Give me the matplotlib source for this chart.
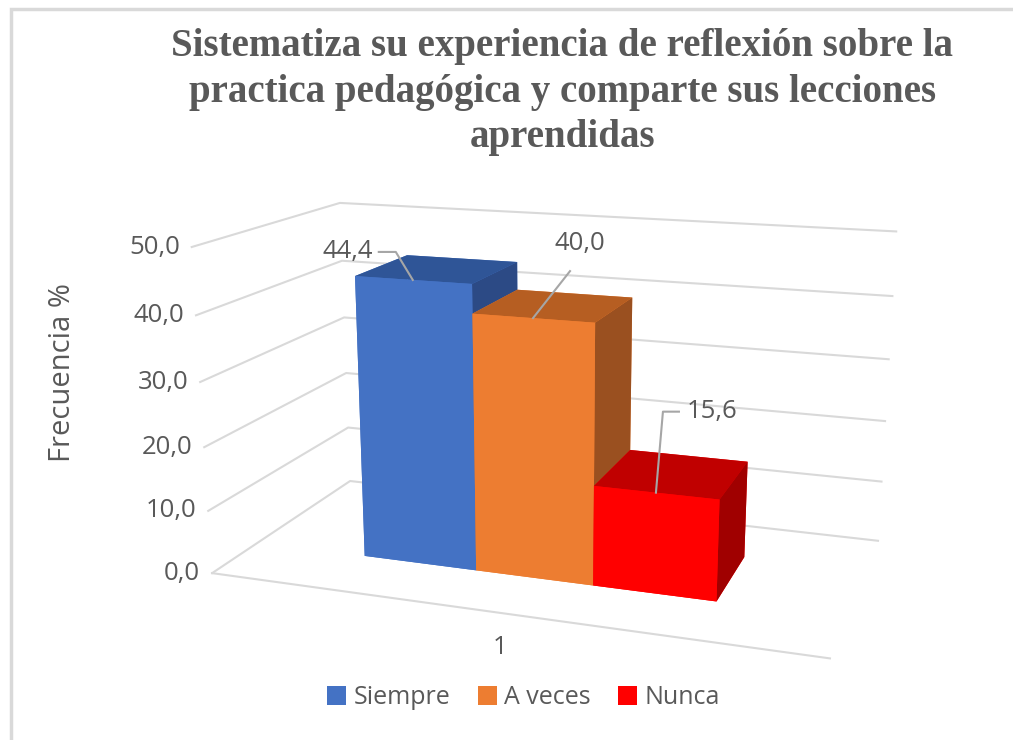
import matplotlib
matplotlib.use("Agg")
import matplotlib.pyplot as plt
from matplotlib.lines import Line2D
from matplotlib.patches import Patch, Rectangle
from mpl_toolkits.mplot3d import proj3d

# data
title = ("Sistematiza su experiencia de reflexión sobre la\n"
         "practica pedagógica y comparte sus lecciones\n"
         "aprendidas")
series = ["Siempre", "A veces", "Nunca"]
values = [44.4, 40.0, 15.6]
value_labels = ["44,4", "40,0", "15,6"]
category = "1"
zticks = [0, 10, 20, 30, 40, 50]
ztick_labels = ["0,0", "10,0", "20,0", "30,0", "40,0", "50,0"]

front = ["#4472C4", "#ED7D31", "#FF0000"]
top = ["#2F5597", "#B65E22", "#C00000"]
side = ["#2C4A85", "#9A5020", "#A00000"]
grey = "#595959"
gridc = "#D9D9D9"
sans = ["Open Sans", "DejaVu Sans"]

fig = plt.figure(figsize=(10.13, 7.40), dpi=100)
fig.add_artist(Rectangle((0.011, -0.01), 1.0, 0.998, transform=fig.transFigure,
                         fill=False, edgecolor=gridc, lw=2.5))

ax = fig.add_axes([0.312, 0.1345, 0.458, 0.627], projection="3d",
                  computed_zorder=False)
ax.set_proj_type("persp", focal_length=0.62)
ax.view_init(elev=15.4, azim=-71)
x0, x1 = 0, 5
y0, y1 = 0, 2.5
ax.set_xlim(x0, x1)
ax.set_ylim(y0, y1)
ax.set_zlim(0, 50)
ax.set_box_aspect((4.78, 2.4, 2.55), zoom=1.6)
ax.set_axis_off()

for z in zticks:
    ax.plot([x0, x0, x1], [y0, y1, y1], [z, z, z], color=gridc, lw=1.5,
            zorder=1, clip_on=False)
ax.plot([x0, x1], [y0, y0], [0, 0], color=gridc, lw=1.5, zorder=1, clip_on=False)

# faces: -z, +z, -y, +y, -x, +x
for i, v in enumerate(values):
    cols = [front[i], top[i], front[i], front[i], front[i], side[i]]
    ax.bar3d(1 + i, 0.75, 0, 1, 1, v, color=cols, shade=False,
             zorder=2 + i, linewidth=0)

fig.canvas.draw()
M = ax.get_proj()
to_fig = fig.transFigure.inverted()


def pix(x, y, z):
    px, py, _ = proj3d.proj_transform(x, y, z, M)
    return ax.transData.transform((px, py))


def figxy(p):
    return to_fig.transform(p)


for z, lab in zip(zticks, ztick_labels):
    p = pix(x0, y0, z)
    fx, fy = figxy((p[0] - 12, p[1]))
    fig.text(fx, fy, lab, ha="right", va="center", fontsize=18.5,
             color=grey, family=sans)

p = pix((x0 + x1) / 2, y0, 0)
fx, fy = figxy((p[0], p[1] - 35))
fig.text(fx, fy, category, ha="center", va="center", fontsize=18.5,
         color=grey, family=sans)

# data labels with leader lines (pixel offsets from front top edge)
leaders = [[(0, 0), (-17, 28), (-34, 28)],
           [(0, 0), (37, 47)],
           [(0, 0), (7, 81), (23, 81)]]
text_off = [(-40, 28, "right"), (47, 75, "center"), (31, 81, "left")]
for i, v in enumerate(values):
    p = pix(1.5 + i, 0.75, v)
    pts = [figxy((p[0] + dx, p[1] + dy)) for dx, dy in leaders[i]]
    fig.add_artist(Line2D([q[0] for q in pts], [q[1] for q in pts],
                          color="#A6A6A6", lw=1.5, transform=fig.transFigure))
    dx, dy, ha = text_off[i]
    fx, fy = figxy((p[0] + dx, p[1] + dy))
    fig.text(fx, fy, value_labels[i], ha=ha, va="center", fontsize=18.5,
             color=grey, family=sans)

fig.text(0.062, 0.496, "Frecuencia %", rotation=90, ha="center", va="center",
         fontsize=21, color=grey, family=sans)

fig.text(0.555, 0.9615, title, ha="center", va="top", fontsize=28,
         fontweight="bold", family=["Liberation Serif", "DejaVu Serif"],
         color=grey, linespacing=1.3)

handles = [Patch(facecolor=c, edgecolor="none") for c in front]
fig.legend(handles, series, loc="center", bbox_to_anchor=(0.517, 0.057), ncol=3,
           frameon=False, handlelength=0.75, handleheight=0.75,
           handletextpad=0.3, columnspacing=1.1,
           prop={"family": sans, "size": 18}, labelcolor=grey)

fig.savefig("out.png", dpi=100)
